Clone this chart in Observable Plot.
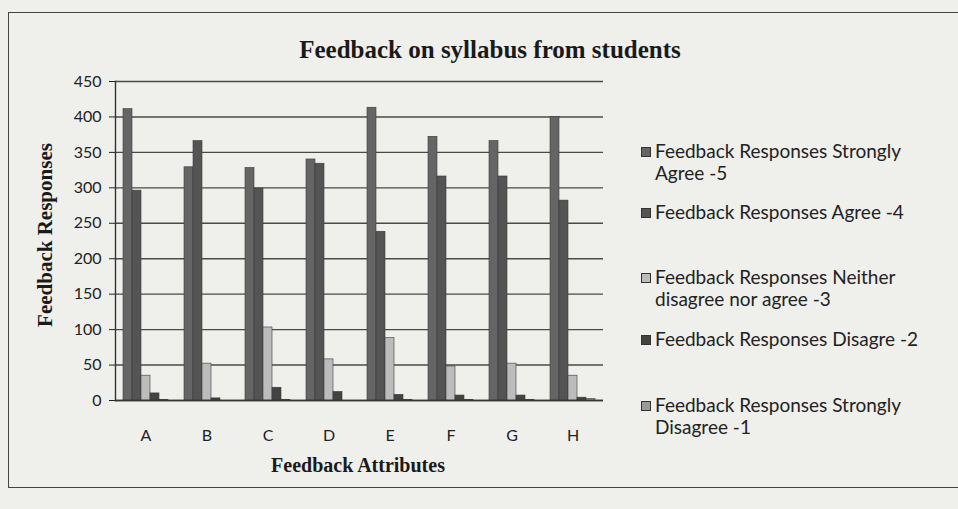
<!DOCTYPE html>
<html>
<head>
<meta charset="utf-8">
<script src="https://cdn.jsdelivr.net/npm/d3@7"></script>
<script src="https://cdn.jsdelivr.net/npm/@observablehq/plot@0.6"></script>
<style>
  html, body { margin: 0; padding: 0; background: #efefec; }
  #wrap { position: relative; width: 958px; height: 509px; overflow: hidden; background: #efefec; }
  #frame { position: absolute; left: 8px; top: 12px; width: 1000px; height: 476px; border: 1.5px solid #444; box-sizing: border-box; }
  #title { position: absolute; left: 0; width: 980px; top: 36px; text-align: center; font: bold 25px "Liberation Serif", "DejaVu Serif", serif; color: #1a1a1a; }
  #ylab { position: absolute; left: 45px; top: 235px; transform: translate(-50%, -50%) rotate(-90deg); white-space: nowrap; font: bold 21px "Liberation Serif", serif; color: #1a1a1a; }
  #xlab { position: absolute; left: 358px; top: 465px; transform: translate(-50%, -50%); white-space: nowrap; font: bold 20px "Liberation Serif", serif; color: #1a1a1a; }
  #chart { position: absolute; left: 0; top: 70px; }
  .leg { position: absolute; left: 655px; font: 19px Lato, sans-serif; color: #222; line-height: 22px; }
  .sw { position: absolute; left: -14px; top: 7px; width: 8px; height: 8px; border: 0.5px solid #333; }
</style>
</head>
<body>
<div id="wrap">
  <div id="frame"></div>
  <div id="title">Feedback on syllabus from students</div>
  <div id="ylab">Feedback Responses</div>
  <div id="xlab">Feedback Attributes</div>
  <div id="chart"></div>
  <div id="legend"></div>
</div>
<script>
const attributes = ["A", "B", "C", "D", "E", "F", "G", "H"];
const seriesNames = [
  "Feedback Responses Strongly Agree -5",
  "Feedback Responses Agree -4",
  "Feedback Responses Neither disagree nor agree -3",
  "Feedback Responses Disagre -2",
  "Feedback Responses Strongly Disagree -1"
];
const stronglyAgree = [411, 329, 328, 340, 413, 372, 366, 400];
const agree = [296, 366, 299, 334, 238, 316, 316, 282];
const neither = [35, 52, 103, 58, 88, 48, 52, 35];
const disagree = [10, 3, 18, 12, 8, 7, 7, 4];
const stronglyDisagree = [1, 0, 1, 0, 1, 1, 1, 2];
const yTicks = [0, 50, 100, 150, 200, 250, 300, 350, 400, 450];
const colors = ["#656565", "#545454", "#bcbcbc", "#434343", "#9a9a9a"];

const seriesValues = [stronglyAgree, agree, neither, disagree, stronglyDisagree];
const rows = [];
attributes.forEach((a, i) => {
  seriesNames.forEach((s, j) => {
    rows.push({attribute: a, series: s, value: seriesValues[j][i]});
  });
});

const chart = Plot.plot({
  width: 620,
  height: 420,
  marginLeft: 112,
  marginRight: 15,
  marginTop: 11,
  marginBottom: 90,
  style: {fontFamily: "Lato, sans-serif", fontSize: "16px", background: "transparent", color: "#222"},
  fx: {domain: attributes, padding: 0, label: null, axis: "bottom", tickSize: 0, tickPadding: 29},
  x: {domain: seriesNames, axis: null, paddingInner: 0, paddingOuter: 0.85},
  y: {domain: [0, 450], ticks: yTicks, label: null, tickSize: 6, tickPadding: 8},
  color: {domain: seriesNames, range: colors},
  marks: [
    Plot.gridY(yTicks, {stroke: "#4a4a4a", strokeOpacity: 1, strokeWidth: 1.4}),
    Plot.barY(rows, {fx: "attribute", x: "series", y: "value", fill: "series", stroke: "#3a3a3a", strokeWidth: 0.6}),
    Plot.ruleY([0], {stroke: "#333", strokeWidth: 1.4}),
    Plot.frame({anchor: "left", facetAnchor: "left", stroke: "#333", strokeWidth: 1.4})
  ]
});
document.getElementById("chart").appendChild(chart);

// legend
const legendTops = [140, 201, 266, 328, 394];
const legendLines = [
  ["Feedback Responses Strongly", "Agree -5"],
  ["Feedback Responses Agree -4"],
  ["Feedback Responses Neither", "disagree nor agree -3"],
  ["Feedback Responses Disagre -2"],
  ["Feedback Responses Strongly", "Disagree -1"]
];
const legend = document.getElementById("legend");
seriesNames.forEach((s, i) => {
  const d = document.createElement("div");
  d.className = "leg";
  d.style.top = legendTops[i] + "px";
  const sw = document.createElement("div");
  sw.className = "sw";
  sw.style.background = colors[i];
  d.appendChild(sw);
  legendLines[i].forEach((t, k) => {
    if (k) d.appendChild(document.createElement("br"));
    d.appendChild(document.createTextNode(t));
  });
  legend.appendChild(d);
});
</script>
</body>
</html>
